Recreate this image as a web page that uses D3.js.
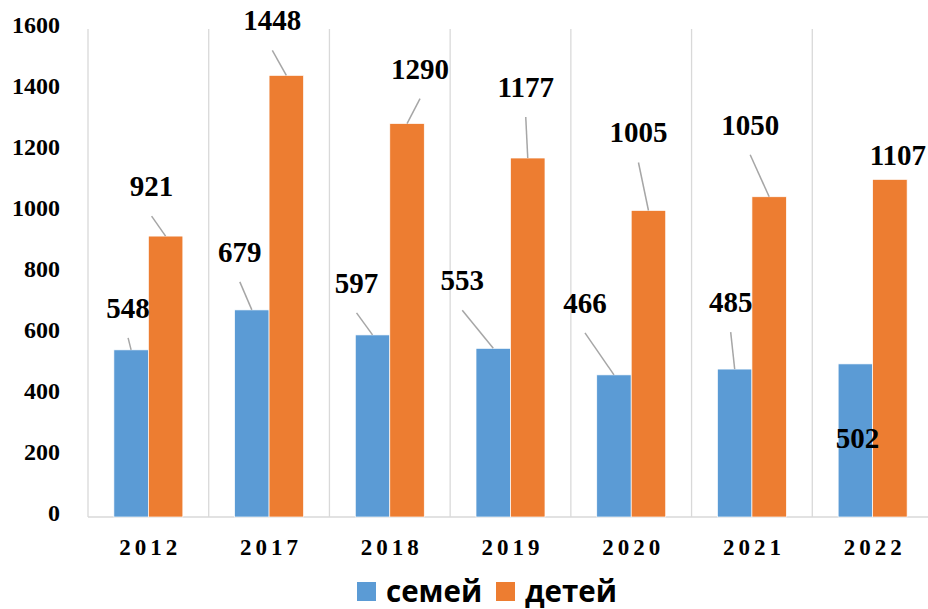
<!DOCTYPE html>
<html>
<head>
<meta charset="utf-8">
<script src="https://cdn.jsdelivr.net/npm/d3@7"></script>
<style>
  html, body { margin: 0; padding: 0; background: #fff; }
  svg { display: block; }
</style>
</head>
<body>
<div id="chart"></div>
<script>
// данные
const years = ["2012", "2017", "2018", "2019", "2020", "2021", "2022"];
const families = [548, 679, 597, 553, 466, 485, 502];   // семей
const children = [921, 1448, 1290, 1177, 1005, 1050, 1107]; // детей
const seriesNames = ["семей", "детей"];
const yTicks = [0, 200, 400, 600, 800, 1000, 1200, 1400, 1600];

// смещения подписей относительно верха столбика (ручная раскладка, как в Excel)
const famLabelOffset = [[-3, -42], [-12, -58], [-16, -52], [-31, -68], [-29, -72], [-4, -67], [2, 74]];
const kidLabelOffset = [[-14, -50], [-14, -55], [13, -55], [-2, -71], [-10, -78], [-19, -72], [8, -24]];

const W = 928, H = 609;
const colors = ["#5B9BD5", "#ED7D31"];

const svg = d3.select("#chart").append("svg").attr("width", W).attr("height", H);

const x0 = d3.scaleBand().domain(years).range([88, 933]).padding(0);
const bw = x0.bandwidth();
const barW = bw / 3.5; // gap width 150%
const x1 = d3.scaleBand().domain(seriesNames).range([bw / 2 - barW, bw / 2 + barW]).padding(0);
const y = d3.scaleLinear().domain([0, 1600]).range([517, 29]);

// вертикальная сетка между категориями
svg.append("g").selectAll("line")
  .data(years)
  .join("line")
    .attr("x1", d => x0(d)).attr("x2", d => x0(d))
    .attr("y1", y(1600)).attr("y2", y(0))
    .attr("stroke", "#d9d9d9").attr("stroke-width", 1.3);

// ось X (линия)
svg.append("line")
  .attr("x1", 88).attr("x2", W)
  .attr("y1", y(0)).attr("y2", y(0))
  .attr("stroke", "#d9d9d9").attr("stroke-width", 1.3);

// подписи оси Y
svg.append("g").selectAll("text")
  .data(yTicks)
  .join("text")
    .attr("x", 60)
    .attr("y", d => y(d) - 4)
    .attr("text-anchor", "end")
    .attr("dominant-baseline", "central")
    .attr("font-family", "'Liberation Serif', 'Times New Roman', serif")
    .attr("font-weight", "bold")
    .attr("font-size", 24)
    .attr("fill", "#000")
    .text(d => d);

// подписи оси X
svg.append("g").selectAll("text")
  .data(years)
  .join("text")
    .attr("x", d => x0(d) + bw / 2 + 2)
    .attr("y", 547)
    .attr("text-anchor", "middle")
    .attr("dominant-baseline", "central")
    .attr("font-family", "'Liberation Serif', 'Times New Roman', serif")
    .attr("font-weight", "bold")
    .attr("font-size", 23)
    .attr("letter-spacing", 4)
    .attr("fill", "#000")
    .text(d => d);

// столбики
const rows = years.map((yr, i) => ({
  year: yr,
  vals: [
    { s: seriesNames[0], v: families[i], off: famLabelOffset[i] },
    { s: seriesNames[1], v: children[i], off: kidLabelOffset[i] }
  ]
}));

const groups = svg.append("g").selectAll("g")
  .data(rows)
  .join("g")
    .attr("transform", d => `translate(${x0(d.year)},0)`);

groups.selectAll("rect")
  .data(d => d.vals)
  .join("rect")
    .attr("x", d => x1(d.s))
    .attr("y", d => y(d.v))
    .attr("width", x1.bandwidth())
    .attr("height", d => y(0) - y(d.v))
    .attr("fill", (d, i) => colors[i])
    .attr("stroke", "#fff")
    .attr("stroke-width", 0.7);

// выноски и подписи значений
const labs = groups.selectAll("g.lab")
  .data(d => d.vals)
  .join("g")
    .attr("class", "lab");

labs.each(function (d) {
  const g = d3.select(this);
  const bx = x1(d.s) + x1.bandwidth() / 2;
  const by = y(d.v);
  const lx = bx + d.off[0];
  const ly = by + d.off[1];
  if (ly + 30 < by - 6) {
    g.append("line")
      .attr("x1", lx).attr("y1", ly + 30)
      .attr("x2", bx).attr("y2", by)
      .attr("stroke", "#a6a6a6").attr("stroke-width", 1.5);
  }
  g.append("text")
    .attr("x", lx)
    .attr("y", ly)
    .attr("text-anchor", "middle")
    .attr("dominant-baseline", "central")
    .attr("font-family", "'Liberation Serif', 'Times New Roman', serif")
    .attr("font-weight", "bold")
    .attr("font-size", 29)
    .attr("fill", "#000")
    .text(d.v);
});

// легенда
const legend = svg.append("g");
const legX = [357, 496];
seriesNames.forEach((name, i) => {
  legend.append("rect")
    .attr("x", legX[i]).attr("y", 582)
    .attr("width", 19).attr("height", 19)
    .attr("fill", colors[i]);
  legend.append("text")
    .attr("x", legX[i] + 29)
    .attr("y", 602)
    .attr("font-family", "'Open Sans', 'Noto Sans', sans-serif")
    .attr("font-weight", "bold")
    .attr("font-size", 29.5)
    .attr("fill", "#000")
    .text(name);
});
</script>
</body>
</html>
